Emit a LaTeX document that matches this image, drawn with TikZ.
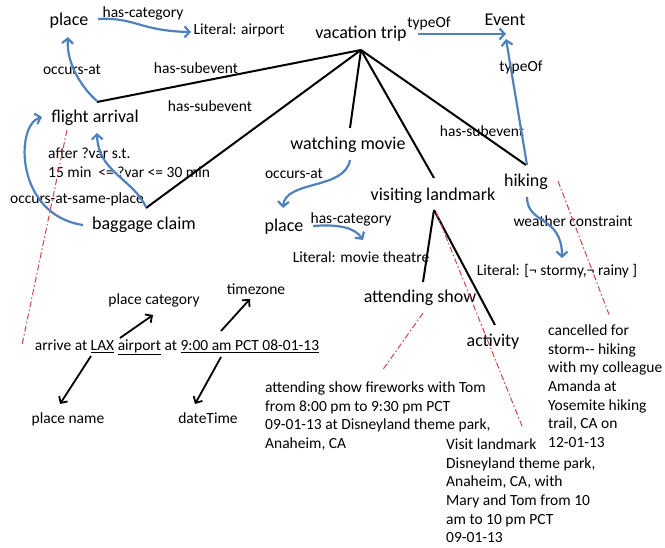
\documentclass[tikz,border=0pt]{standalone}
\usepackage{fontspec}
\setmainfont{Carlito}
\usetikzlibrary{arrows.meta,calc}
\definecolor{oblue}{RGB}{79,129,189}
\definecolor{ored}{RGB}{205,70,70}
\begin{document}
\begin{tikzpicture}[x=1pt,y=-1pt,
  main/.style={font=\fontsize{18}{21}\selectfont, inner sep=0pt, text height=12pt, text depth=4pt},
  small/.style={font=\fontsize{15.5}{18.7}\selectfont, inner sep=0pt, text height=10.5pt, text depth=3.5pt},
  block/.style={font=\fontsize{15.5}{18.7}\selectfont, inner sep=0pt, align=left, anchor=north west},
  bluearr/.style={draw=oblue, line width=2.2pt, -{Straight Barb[length=5pt,width=11pt]}},
  blackline/.style={draw=black, line width=2pt},
  blackarr/.style={draw=black, line width=1.8pt, -{Straight Barb[length=5pt,width=10pt]}},
  reddash/.style={draw=ored, line width=1pt, dash pattern=on 6pt off 2.5pt on 1.5pt off 2.5pt}]
\useasboundingbox (0,0) rectangle (665,548);
% nodes
\node[main] (place1) at (69,22) {place};
\node[small] (hascat1) at (143,14) {has-category};
\node[small] (litair) at (239,31) {Literal: airport};
\node[main] (vac) at (361,35) {vacation trip};
\node[small] (typeof1) at (429,24) {typeOf};
\node[main] (event) at (505,22) {Event};
\node[small] (typeof2) at (521,68) {typeOf};
\node[small] (occat1) at (72,71) {occurs-at};
\node[small] (hs1) at (196,70) {has-subevent};
\node[small] (hs2) at (210,108) {has-subevent};
\node[small] (hs3) at (482,133) {has-subevent};
\node[main] (flight) at (95,119) {flight arrival};
\node[block] (after) at (48,147.5) {after ?var s.t.\\15 min\ \ <= ?var <= 30 min};
\node[small] (osp) at (77,200) {occurs-at-same-place};
\node[main] (baggage) at (144,226) {baggage claim};
\node[main] (watch) at (348,146) {watching movie};
\node[small] (occat2) at (294,175) {occurs-at};
\node[main] (place2) at (284,228) {place};
\node[small] (hascat2) at (351,220) {has-category};
\node[small] (litmovie) at (361,259) {Literal: movie theatre};
\node[main] (visit) at (433,197) {visiting landmark};
\node[main] (hiking) at (526,183) {hiking};
\node[small] (weather) at (573,223) {weather constraint};
\node[small] (litweather) at (557,272) {Literal: [¬ stormy,¬ rainy ]};
\node[main] (attend) at (420,299) {attending show};
\node[main] (activity) at (493,343) {activity};
\node[small] (arrive) at (177,347) {arrive at \underline{LAX} \underline{airport} at \underline{9:00 am PCT 08-01-13}};
\node[small] (pcat) at (154,301) {place category};
\node[small] (tz) at (256,291) {timezone};
\node[small] (pname) at (68,420) {place name};
\node[small] (dt) at (208,420) {dateTime};
\node[block] (attblk) at (265,381.5) {attending show fireworks with Tom\\from 8:00 pm to 9:30 pm PCT\\09-01-13 at Disneyland theme park,\\Anaheim, CA};
\node[block] (visblk) at (446,438.5) {Visit landmark\\Disneyland theme park,\\Anaheim, CA, with\\Mary and Tom from 10\\am to 10 pm PCT\\09-01-13};
\node[block] (canblk) at (548,324.5) {cancelled for\\storm{-}{-} hiking\\with my colleague\\Amanda at\\Yosemite hiking\\trail, CA on\\12-01-13};
% black subevent lines
\coordinate (apex) at ($(vac)+(0,15)$);
\draw[blackline] (apex) -- ($(flight)+(2,-17)$);
\draw[blackline] (apex) -- ($(baggage)+(2,-18)$);
\draw[blackline] (apex) -- ($(watch)+(2,-18)$);
\draw[blackline] (apex) -- ($(visit)+(1,-19)$);
\draw[blackline] (apex) -- ($(hiking)+(0,-18)$);
\draw[blackline] ($(visit)+(1,13)$) -- ($(attend)+(3,-17)$);
\draw[blackline] ($(visit)+(1,13)$) -- ($(activity)+(2,-18)$);
% blue arrows
\draw[bluearr] ($(place1)+(29,-3)$) .. controls (135,17) and (140,31) .. ($(litair)+(-48,1)$);
\draw[bluearr] ($(vac)+(57,-1)$) -- ($(event)+(1,12)$);
\draw[bluearr] ($(hiking)+(1,-18)$) -- ($(event)+(1,17)$);
\draw[bluearr] ($(flight)+(2,-18)$) .. controls (84,90) and (66,65) .. ($(place1)+(-1,15)$);
\draw[bluearr] ($(baggage)+(2,-19)$) .. controls (132,178) and (98,172) .. ($(flight)+(2,14)$);
\draw[bluearr] ($(baggage)+(-61,-1)$) .. controls (15,215) and (15,125) .. ($(flight)+(-53,-2)$);
\draw[bluearr] ($(watch)+(2,14)$) .. controls (345,190) and (285,180) .. ($(place2)+(-1,-20)$);
\draw[bluearr] ($(place2)+(29,-2)$) .. controls (340,224) and (355,228) .. ($(litmovie)+(2,-19)$);
\draw[bluearr] ($(hiking)+(1,14)$) .. controls (527,225) and (562,215) .. ($(litweather)+(5,-14)$);
% red dash-dot
\draw[reddash] ($(flight)+(-28,11)$) -- ($(arrive)+(-155,-2)$);
\draw[reddash] ($(visit)+(3,15)$) -- ($(visblk.north west)+(77,-10)$);
\draw[reddash] ($(attend)+(3,14)$) -- ($(attblk.north west)+(118,-12)$);
\draw[reddash] ($(hiking)+(32,-2)$) -- ($(canblk.north west)+(61,-10)$);
% black arrows
\draw[blackarr] ($(arrive)+(-57,-9)$) -- ($(pcat)+(-1,14)$);
\draw[blackarr] ($(arrive)+(44,-16)$) -- ($(tz)+(-6,8)$);
\draw[blackarr] ($(arrive)+(-86,9)$) -- ($(pname)+(-8,-16)$);
\draw[blackarr] ($(arrive)+(44,10)$) -- ($(dt)+(-13,-16)$);
\end{tikzpicture}
\end{document}
